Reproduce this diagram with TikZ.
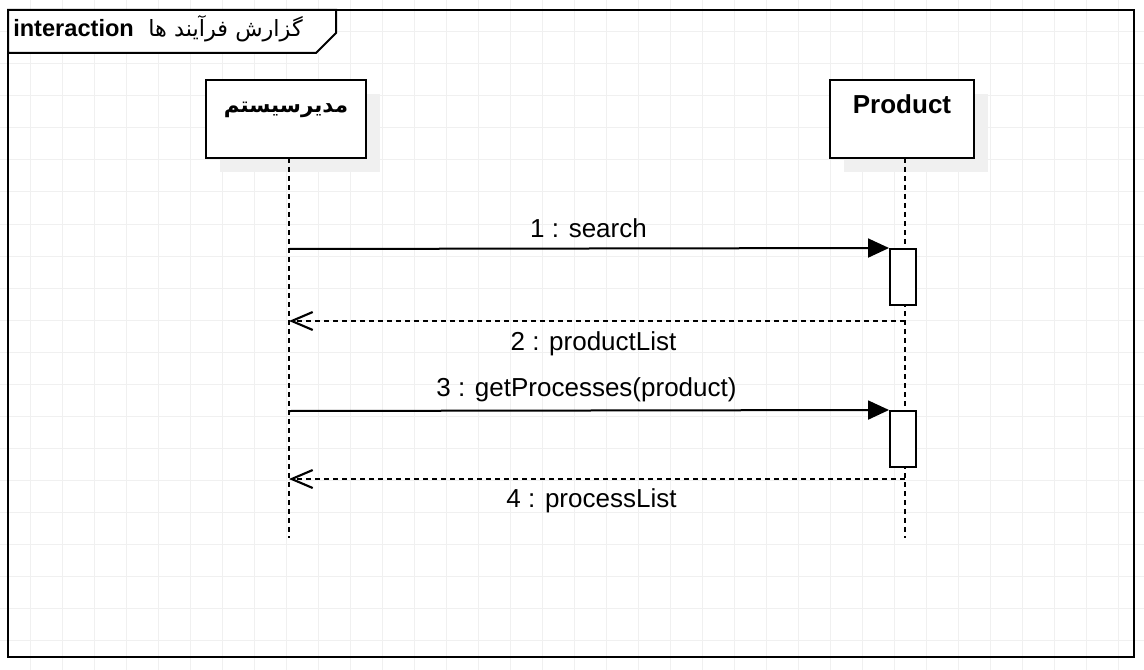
\documentclass[tikz,border=0pt]{standalone}
\usepackage{fontspec}
\setmainfont{Liberation Sans}
\newfontfamily\arabicfont[Script=Arabic]{DejaVu Sans}
\TeXXeTstate=1
\usetikzlibrary{arrows.meta,shadows}
\definecolor{gridc}{RGB}{240,240,240}
\definecolor{shadowc}{RGB}{240,240,240}
\begin{document}
\begin{tikzpicture}[x=0.75pt,y=-0.75pt,
  gridline/.style={draw=gridc,line width=0.75pt},
  frame/.style={draw=black,line width=1.5pt},
  hdr/.style={draw=black,fill=white,line width=1.5pt,minimum height=58.5pt,inner sep=0pt,
    drop shadow={shadow xshift=10.5pt,shadow yshift=-10.5pt,fill=shadowc,draw=none,opacity=1}},
  hdrtext/.style={anchor=base,inner sep=0pt,font=\fontsize{19.5}{23}\selectfont\bfseries},
  act/.style={draw=black,fill=white,line width=1.5pt,minimum width=19.5pt,minimum height=42pt,inner sep=0pt},
  lifeline/.style={draw=black,line width=1.6pt,dash pattern=on 3.75pt off 3pt},
  msg/.style={draw=black,line width=1.5pt,-{Triangle[length=15.75pt,width=14.25pt]}},
  ret/.style={draw=black,line width=1.6pt,dash pattern=on 3.75pt off 3pt,-{Straight Barb[length=15.75pt,width=13.5pt]}},
  lbl/.style={anchor=base,inner sep=0pt,font=\fontsize{19.5}{23}\selectfont}
]
\useasboundingbox (0,0) rectangle (1144,670);
\fill[white] (0,0) rectangle (1144,670);
% grid
\foreach \x in {30,62,...,1144} \draw[gridline] (\x,0) -- (\x,670);
\foreach \y in {0,32,...,670} \draw[gridline] (0,\y) -- (1144,\y);
% frame and tab
\draw[frame] (8,10) rectangle (1134,657);
\draw[frame,fill=white] (8,10) -- (336,10) -- (336,33) -- (316,53) -- (8,53) -- cycle;
\node[anchor=base west,inner sep=0pt,font=\fontsize{17.7}{21}\selectfont\bfseries] (title) at (13,37) {interaction};
\node[anchor=base east,inner sep=0pt,font=\fontsize{16.8}{20}\selectfont\arabicfont] (titlefa) at (303,37) {\beginR گزارش فرآیند ها\endR};
% headers
\node[hdr,minimum width=120pt] (A) at (286,119) {};
\node[hdr,minimum width=108pt] (P) at (902,119) {};
\node[hdrtext,font=\fontsize{16.1}{20}\selectfont\arabicfont\bfseries] (Aname) at (286,113) {\beginR مدیرسیستم\endR};
\node[hdrtext] (Pname) at (902,114) {Product};
% lifelines
\coordinate (Atop) at (289,158);
\coordinate (Abot) at (289,538);
\coordinate (Ptop) at (905,158);
\coordinate (Pbot) at (905,538);
\draw[lifeline] (Atop) -- (Abot);
\draw[lifeline] (Ptop) -- (Pbot);
% activations
\node[act] (act1) at (903,277) {};
\node[act] (act2) at (903,439) {};
% messages
\coordinate (m1) at (289,249);
\coordinate (r2s) at (905,321);
\coordinate (r2e) at (289,321);
\coordinate (m3) at (289,411);
\coordinate (r4s) at (905,479);
\coordinate (r4e) at (289,479);
\draw[msg] (m1) -- (act1.north west);
\draw[ret] (r2s) -- (r2e);
\draw[msg] (m3) -- (act2.north west);
\draw[ret] (r4s) -- (r4e);
\node[lbl] (l1) at (588.5,237) {1 : search};
\node[lbl] (l2) at (593.5,350) {2 : productList};
\node[lbl] (l3) at (586.5,396) {3 : getProcesses(product)};
\node[lbl] (l4) at (591.5,507) {4 : processList};
\end{tikzpicture}
\end{document}
